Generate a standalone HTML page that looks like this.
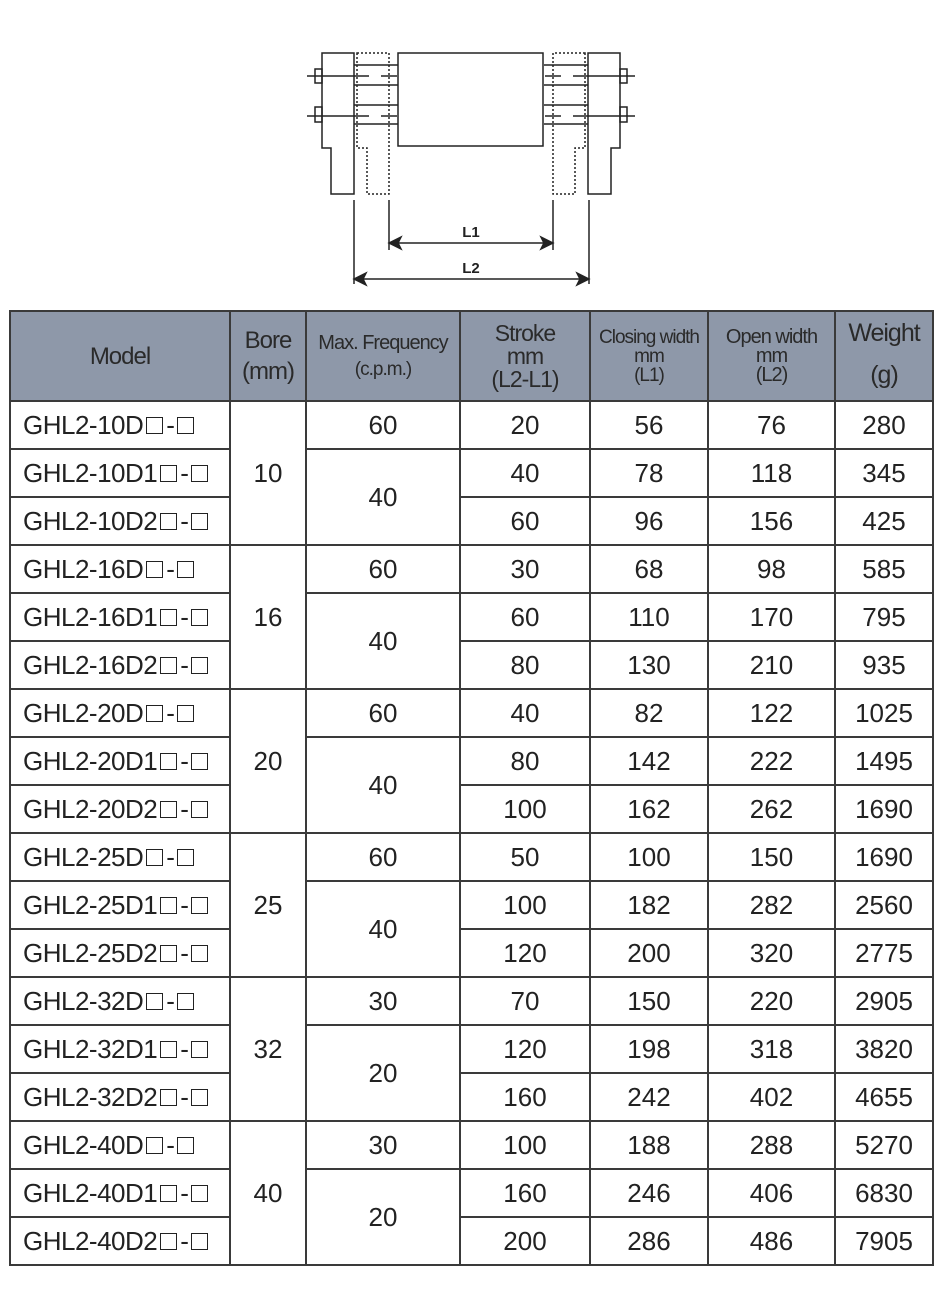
<!DOCTYPE html>
<html><head><meta charset="utf-8"><style>
body{margin:0;width:940px;height:1306px;background:#fff;position:relative;overflow:hidden;font-family:"Liberation Sans",sans-serif;color:#222}
table{position:absolute;left:9px;top:310px;border-collapse:collapse;table-layout:fixed;width:923px}
td,th{border:2px solid #3a3a3a;text-align:center;padding:0;font-weight:normal}
th{background:#8e98a9;height:88px;font-size:20px;line-height:21px;letter-spacing:-1px;color:#2a2a2a}
td{height:46px;font-size:26px}
td.m{text-align:left;padding-left:12px;letter-spacing:-0.5px}
.sq{display:inline-block;width:15px;height:15px;border:1.5px solid #222;vertical-align:0px;margin:0 3px}
</style></head><body>
<svg width="940" height="300" style="position:absolute;left:0;top:0" fill="none" stroke="#222" stroke-width="1.5">
<g id="L">
<path d="M322 53 H354 V194 H331 V148 H322 Z"/>
<path d="M357 53 H389 V194 H367 V148 H357 Z" stroke-dasharray="2 2"/>
<line x1="354" y1="65" x2="398" y2="65"/><line x1="354" y1="85" x2="398" y2="85"/>
<line x1="354" y1="105" x2="398" y2="105"/><line x1="354" y1="124" x2="398" y2="124"/>
<line x1="307" y1="76" x2="369" y2="76"/><line x1="381" y1="76" x2="397" y2="76"/>
<line x1="307" y1="116" x2="369" y2="116"/><line x1="381" y1="116" x2="397" y2="116"/>
<rect x="315" y="69" width="7" height="14"/><rect x="315" y="107" width="7" height="15"/>
</g>
<use href="#L" transform="translate(942,0) scale(-1,1)"/>
<rect x="398" y="53" width="145" height="93"/>
<line x1="354" y1="200" x2="354" y2="284"/><line x1="589" y1="200" x2="589" y2="284"/>
<line x1="389" y1="200" x2="389" y2="250"/><line x1="553" y1="200" x2="553" y2="250"/>
<line x1="392" y1="243" x2="550" y2="243"/><line x1="357" y1="279" x2="586" y2="279"/>
<path d="M389 243 L401 237 L398 243 L401 249 Z M553 243 L541 237 L544 243 L541 249 Z M354 279 L366 273 L363 279 L366 285 Z M589 279 L577 273 L580 279 L577 285 Z" fill="#222"/>
<text x="471" y="237" font-size="15" font-weight="bold" fill="#222" stroke="none" text-anchor="middle" font-family="Liberation Sans">L1</text>
<text x="471" y="273" font-size="15" font-weight="bold" fill="#222" stroke="none" text-anchor="middle" font-family="Liberation Sans">L2</text>
</svg>
<table>
<colgroup><col style="width:220px"><col style="width:76px"><col style="width:154px"><col style="width:130px"><col style="width:118px"><col style="width:127px"><col style="width:98px"></colgroup>
<tr><th style="font-size:24px">Model</th><th style="font-size:24px;line-height:31px">Bore<br>(mm)</th><th style="line-height:26px">Max. Frequency<br><span style="font-size:19px">(c.p.m.)</span></th><th style="font-size:23px;line-height:23px">Stroke<br>mm<br>(L2-L1)</th><th style="font-size:19px;line-height:19px">Closing width<br>mm<br>(L1)</th><th style="font-size:20px;line-height:19px">Open width<br>mm<br>(L2)</th><th style="font-size:25px;line-height:42px;vertical-align:top">Weight<br>(g)</th></tr>
<tr><td class="m">GHL2-10D<span class="sq"></span>-<span class="sq"></span></td><td rowspan="3">10</td><td>60</td><td>20</td><td>56</td><td>76</td><td>280</td></tr>
<tr><td class="m">GHL2-10D1<span class="sq"></span>-<span class="sq"></span></td><td rowspan="2">40</td><td>40</td><td>78</td><td>118</td><td>345</td></tr>
<tr><td class="m">GHL2-10D2<span class="sq"></span>-<span class="sq"></span></td><td>60</td><td>96</td><td>156</td><td>425</td></tr>
<tr><td class="m">GHL2-16D<span class="sq"></span>-<span class="sq"></span></td><td rowspan="3">16</td><td>60</td><td>30</td><td>68</td><td>98</td><td>585</td></tr>
<tr><td class="m">GHL2-16D1<span class="sq"></span>-<span class="sq"></span></td><td rowspan="2">40</td><td>60</td><td>110</td><td>170</td><td>795</td></tr>
<tr><td class="m">GHL2-16D2<span class="sq"></span>-<span class="sq"></span></td><td>80</td><td>130</td><td>210</td><td>935</td></tr>
<tr><td class="m">GHL2-20D<span class="sq"></span>-<span class="sq"></span></td><td rowspan="3">20</td><td>60</td><td>40</td><td>82</td><td>122</td><td>1025</td></tr>
<tr><td class="m">GHL2-20D1<span class="sq"></span>-<span class="sq"></span></td><td rowspan="2">40</td><td>80</td><td>142</td><td>222</td><td>1495</td></tr>
<tr><td class="m">GHL2-20D2<span class="sq"></span>-<span class="sq"></span></td><td>100</td><td>162</td><td>262</td><td>1690</td></tr>
<tr><td class="m">GHL2-25D<span class="sq"></span>-<span class="sq"></span></td><td rowspan="3">25</td><td>60</td><td>50</td><td>100</td><td>150</td><td>1690</td></tr>
<tr><td class="m">GHL2-25D1<span class="sq"></span>-<span class="sq"></span></td><td rowspan="2">40</td><td>100</td><td>182</td><td>282</td><td>2560</td></tr>
<tr><td class="m">GHL2-25D2<span class="sq"></span>-<span class="sq"></span></td><td>120</td><td>200</td><td>320</td><td>2775</td></tr>
<tr><td class="m">GHL2-32D<span class="sq"></span>-<span class="sq"></span></td><td rowspan="3">32</td><td>30</td><td>70</td><td>150</td><td>220</td><td>2905</td></tr>
<tr><td class="m">GHL2-32D1<span class="sq"></span>-<span class="sq"></span></td><td rowspan="2">20</td><td>120</td><td>198</td><td>318</td><td>3820</td></tr>
<tr><td class="m">GHL2-32D2<span class="sq"></span>-<span class="sq"></span></td><td>160</td><td>242</td><td>402</td><td>4655</td></tr>
<tr><td class="m">GHL2-40D<span class="sq"></span>-<span class="sq"></span></td><td rowspan="3">40</td><td>30</td><td>100</td><td>188</td><td>288</td><td>5270</td></tr>
<tr><td class="m">GHL2-40D1<span class="sq"></span>-<span class="sq"></span></td><td rowspan="2">20</td><td>160</td><td>246</td><td>406</td><td>6830</td></tr>
<tr><td class="m">GHL2-40D2<span class="sq"></span>-<span class="sq"></span></td><td>200</td><td>286</td><td>486</td><td>7905</td></tr>
</table>
</body></html>
